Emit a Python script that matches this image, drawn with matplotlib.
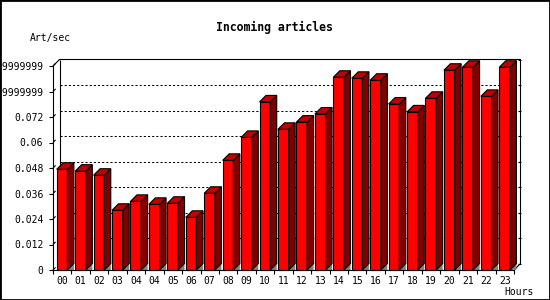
import numpy as np
import matplotlib.pyplot as plt
from matplotlib.patches import Polygon, Rectangle

# hour labels as printed under the bars (04 appears twice in the source)
hours = ['00', '01', '02', '03', '04', '04', '05', '06', '07', '08', '09', '10', '11',
         '12', '13', '14', '15', '16', '17', '18', '19', '20', '21', '22', '23']
rate = [0.0474, 0.0465, 0.0446, 0.0281, 0.0323, 0.0309, 0.0314, 0.0248, 0.0361,
        0.0516, 0.0624, 0.0791, 0.0662, 0.0696, 0.0734, 0.0907, 0.0902, 0.0893,
        0.0781, 0.0744, 0.0808, 0.0940, 0.0954, 0.0817, 0.0954]

yticks = [0, 0.012, 0.024, 0.036, 0.048, 0.06, 0.072, 0.084, 0.096]
ylabels = ['0', '0.012', '0.024', '0.036', '0.048', '0.06', '0.072',
           '0.08399999999999', '0.09599999999999']

plt.rcParams['font.family'] = 'DejaVu Sans Mono'
plt.rcParams['font.size'] = 7

fig = plt.figure(figsize=(5.5, 3), dpi=100)
ax = fig.add_axes([53 / 550, 30 / 300, 461 / 550, 204 / 300])

n = len(hours)
ymax = yticks[-1]
ax.set_xlim(0, n)
ax.set_ylim(0, ymax)

# depth of the 3d effect: 6.5 px turned into data units
dx = 6.5 * n / 461
dy = 6.5 * ymax / 204
lw = 0.8

# back wall: grid lines and frame
for t in yticks[1:-1]:
    ax.plot([dx, n + dx], [t + dy, t + dy], color='black', lw=0.75,
            dashes=(2, 2), zorder=1, clip_on=False)
frame = dict(color='black', lw=lw, zorder=1, clip_on=False, solid_capstyle='butt')
ax.plot([0, dx, n + dx, n + dx, n], [ymax, ymax + dy, ymax + dy, dy, 0], **frame)
ax.plot([dx, dx], [dy, ymax + dy], **frame)
for t in yticks:
    ax.plot([0, dx * 0.4], [t, t + dy * 0.4], **frame)
    ax.plot([n + dx - 3 * n / 461, n + dx], [t + dy, t + dy], **frame)

# bars
x0 = np.arange(n) + 0.2
w = 0.58
ax.bar(x0, rate, width=w, align='edge', color='#ff0000', edgecolor='black',
       linewidth=lw, zorder=3, clip_on=False)
for xi, v in zip(x0, rate):
    xr = xi + w
    ax.add_patch(Polygon([(xr, 0), (xr + dx, dy), (xr + dx, 0)], closed=True,
                         fc='#808080', ec='none', zorder=2, clip_on=False))
    ax.add_patch(Polygon([(xr, 0), (xr + dx, dy), (xr + dx, v + dy), (xr, v)],
                         closed=True, fc='#800000', ec='black', lw=lw, zorder=3,
                         clip_on=False))
    ax.add_patch(Polygon([(xi, v), (xr, v), (xr + dx, v + dy), (xi + dx, v + dy)],
                         closed=True, fc='#c00000', ec='black', lw=lw, zorder=3,
                         clip_on=False))

for s in ['top', 'right']:
    ax.spines[s].set_visible(False)
for s in ['left', 'bottom']:
    ax.spines[s].set_linewidth(lw)
    ax.spines[s].set_zorder(4)

ax.set_yticks(yticks, ylabels)
ax.tick_params(axis='y', length=3, width=lw, pad=4)
ax.set_xticks(range(n + 1), [''] * (n + 1))
ax.set_xticks(np.arange(n) + 0.5, hours, minor=True)
ax.tick_params(axis='x', which='major', length=3, width=lw)
ax.tick_params(axis='x', which='minor', length=0, pad=4)
ax.set_facecolor('none')

fig.text(274 / 550, 1 - 27 / 300, 'Incoming articles', ha='center', va='center',
         fontweight='bold', fontsize=8.3)
fig.text(30 / 550, 1 - 37.5 / 300, 'Art/sec', ha='left', va='center')
fig.text(534 / 550, 1 - 292 / 300, 'Hours', ha='right', va='center')

fig.patches.append(Rectangle((0, 0), 1, 1, transform=fig.transFigure, fill=False,
                             ec='black', lw=2))

fig.savefig('out.png', dpi=100)
